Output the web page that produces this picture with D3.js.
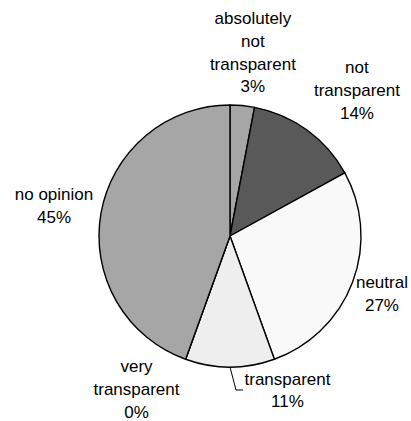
<!DOCTYPE html>
<html><head><meta charset="utf-8">
<script src="https://cdn.jsdelivr.net/npm/d3@7"></script>
<style>body{margin:0;background:#fff}text{font-family:"Liberation Sans",Arial,sans-serif;font-size:17px;fill:#000}</style>
</head><body>
<svg id="c" width="411" height="421"></svg>
<script>
const categories = ["absolutely not transparent","not transparent","neutral","transparent","very transparent","no opinion"];
const labelLines = [["absolutely","not","transparent"],["not","transparent"],["neutral"],["transparent"],["very","transparent"],["no opinion"]];
const values = [3, 14, 27.5, 11, 0, 44.5];
const pctLabels = ["3%","14%","27%","11%","0%","45%"];
const colors = ["#a6a6a6","#595959","#f9f9f9","#eeeeee","#d9d9d9","#a6a6a6"];

const svg = d3.select("#c");
const cx = 230, cy = 236, R = 131;
const g = svg.append("g").attr("transform", `translate(${cx},${cy})`);
const pie = d3.pie().sort(null).value(d => d)(values);
const arc = d3.arc().innerRadius(0).outerRadius(R);
g.selectAll("path").data(pie).enter().append("path")
  .attr("d", arc).attr("fill", (d,i) => colors[i])
  .attr("stroke", "#000").attr("stroke-width", 1.4).attr("stroke-linejoin","round");

// label placement: radius factor and angle tweak (degrees) per slice
const lf = [1.412, 1.477, 1.24, 1.45, 1.37, 1.364];
const ad = [1.7, 5, 0, 0, 11.6, 0];
const lh = 22.7;
pie.forEach((d,i) => {
  const a = (d.startAngle + d.endAngle)/2 + ad[i]*Math.PI/180;
  const r = R*lf[i];
  let x = r*Math.sin(a), y = -r*Math.cos(a);
  if (i === 3) { x = 57.5; y = 154; }
  const lines = labelLines[i].concat([pctLabels[i]]);
  const t = g.append("text").attr("text-anchor","middle");
  const y0 = y - (lines.length-1)*lh/2;
  lines.forEach((s,k) => t.append("tspan").attr("x", x).attr("y", y0 + k*lh).attr("dy","0.35em").text(s));
});
// leader line for "transparent"
const tp = pie[3];
const ma = (tp.startAngle + tp.endAngle)/2;
const px = R*Math.sin(ma), py = -R*Math.cos(ma);
g.append("path").attr("fill","none").attr("stroke","#000").attr("stroke-width",1)
  .attr("d", `M${px},${py}L${px+6},${py+23}L${px+13},${py+23}`);
</script>
</body></html>
